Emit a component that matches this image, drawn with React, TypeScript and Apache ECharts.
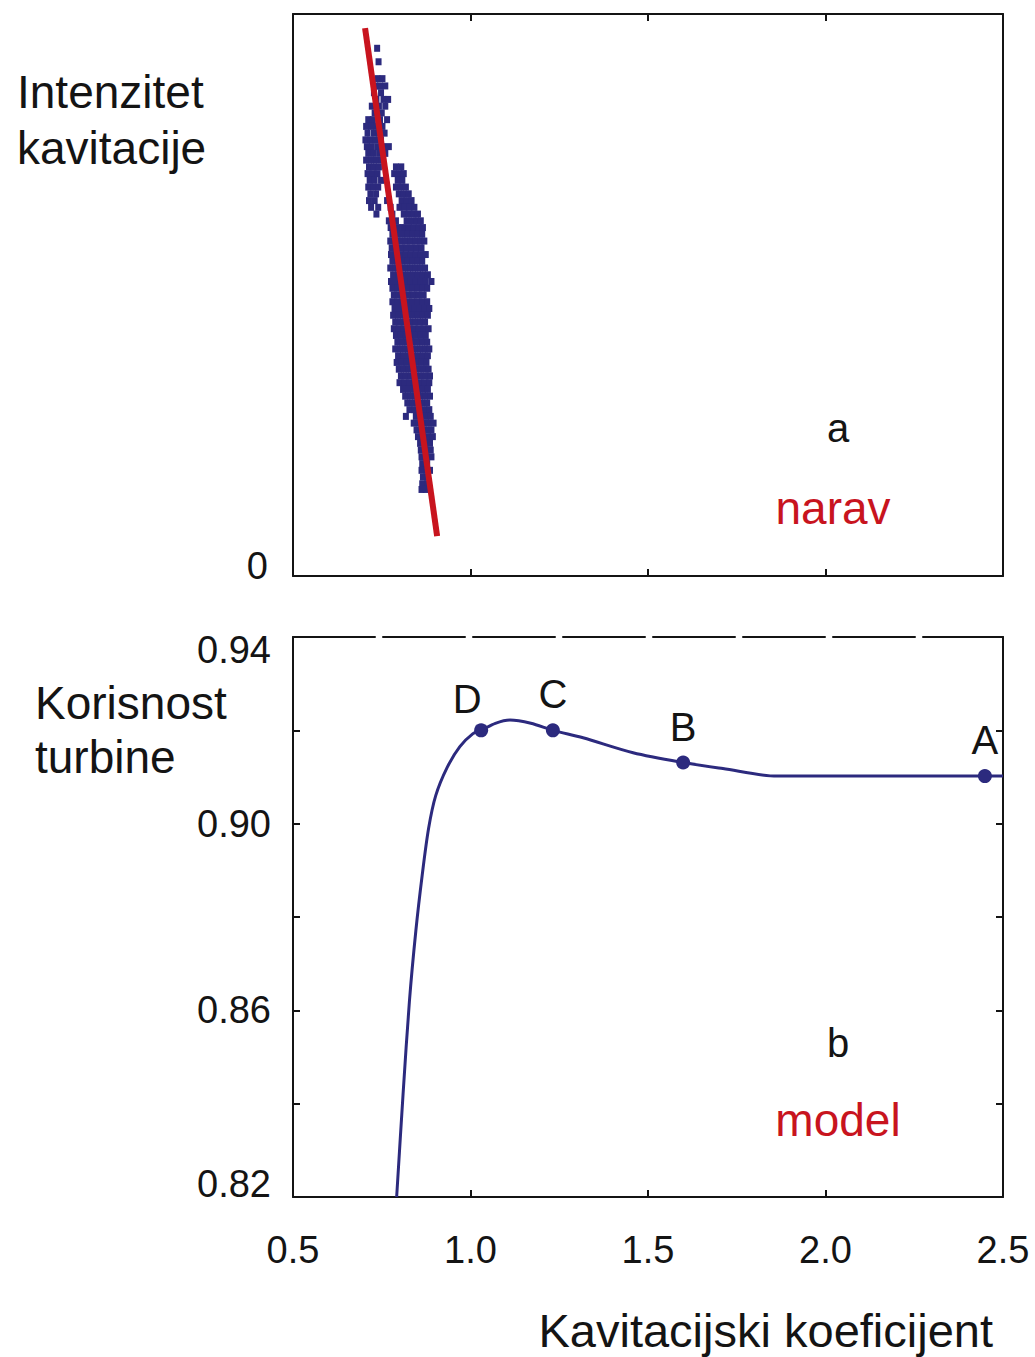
import React, { useEffect, useRef } from "react";
import * as echarts from "echarts";

// ---- Panel a: cavitation intensity cloud (rows: [intensity, x1, x2, ...]) ----
const cloudRows: number[][] = [
  [93.9, 0.737],
  [91.5, 0.741],
  [88.5, 0.738, 0.752],
  [87.2, 0.732, 0.745, 0.76],
  [86.0, 0.728, 0.748],
  [84.8, 0.735, 0.755, 0.768],
  [83.6, 0.722, 0.742, 0.76],
  [82.4, 0.73, 0.75],
  [81.2, 0.712, 0.725, 0.745, 0.765],
  [80.0, 0.706, 0.72, 0.735, 0.752],
  [78.8, 0.71, 0.728, 0.742, 0.758],
  [77.6, 0.704, 0.718, 0.732, 0.748],
  [76.4, 0.708, 0.722, 0.738, 0.754, 0.77],
  [75.2, 0.712, 0.728, 0.745, 0.76],
  [74.0, 0.706, 0.72, 0.734, 0.75],
  [72.8, 0.714, 0.728, 0.742, 0.79, 0.805],
  [71.6, 0.71, 0.724, 0.738, 0.785, 0.8, 0.812],
  [70.4, 0.716, 0.73, 0.748, 0.795, 0.808],
  [69.2, 0.712, 0.726, 0.74, 0.79, 0.804, 0.818],
  [68.0, 0.718, 0.734, 0.798, 0.812, 0.826],
  [66.8, 0.714, 0.73, 0.765, 0.806, 0.82, 0.834],
  [65.6, 0.72, 0.74, 0.775, 0.8, 0.814, 0.828, 0.842],
  [64.4, 0.735, 0.78, 0.812, 0.826, 0.84, 0.852],
  [63.2, 0.77, 0.79, 0.82, 0.834, 0.848, 0.86],
  [62.0, 0.775, 0.795, 0.81, 0.826, 0.84, 0.854, 0.866],
  [60.8, 0.78, 0.794, 0.808, 0.822, 0.836, 0.85, 0.864],
  [59.6, 0.774, 0.788, 0.802, 0.816, 0.83, 0.844, 0.858, 0.87],
  [58.4, 0.778, 0.792, 0.806, 0.82, 0.834, 0.848, 0.862],
  [57.2, 0.776, 0.79, 0.804, 0.818, 0.832, 0.846, 0.86, 0.874],
  [56.0, 0.78, 0.794, 0.808, 0.822, 0.836, 0.85, 0.864],
  [54.8, 0.774, 0.788, 0.802, 0.816, 0.83, 0.844, 0.858, 0.872],
  [53.6, 0.782, 0.796, 0.81, 0.824, 0.838, 0.852, 0.866, 0.88],
  [52.4, 0.776, 0.79, 0.804, 0.818, 0.832, 0.846, 0.86, 0.874, 0.89],
  [51.2, 0.78, 0.794, 0.808, 0.822, 0.836, 0.85, 0.864, 0.878],
  [50.0, 0.784, 0.798, 0.812, 0.826, 0.84, 0.854, 0.868],
  [48.8, 0.78, 0.794, 0.808, 0.822, 0.836, 0.85, 0.864, 0.878],
  [47.6, 0.786, 0.8, 0.814, 0.828, 0.842, 0.856, 0.87, 0.884],
  [46.4, 0.782, 0.796, 0.81, 0.824, 0.838, 0.852, 0.866, 0.88],
  [45.2, 0.788, 0.802, 0.816, 0.83, 0.844, 0.858, 0.872],
  [44.0, 0.784, 0.798, 0.812, 0.826, 0.84, 0.854, 0.868, 0.882],
  [42.8, 0.79, 0.804, 0.818, 0.832, 0.846, 0.86, 0.874],
  [41.6, 0.794, 0.808, 0.822, 0.836, 0.85, 0.864, 0.878],
  [40.4, 0.788, 0.802, 0.816, 0.83, 0.844, 0.858, 0.872, 0.884],
  [39.2, 0.796, 0.81, 0.824, 0.838, 0.852, 0.866, 0.88],
  [38.0, 0.792, 0.806, 0.82, 0.834, 0.848, 0.862, 0.876],
  [36.8, 0.798, 0.812, 0.826, 0.84, 0.854, 0.868, 0.882],
  [35.6, 0.804, 0.818, 0.832, 0.846, 0.86, 0.874, 0.886],
  [34.4, 0.8, 0.814, 0.828, 0.842, 0.856, 0.87, 0.884],
  [33.2, 0.81, 0.824, 0.838, 0.852, 0.866, 0.88],
  [32.0, 0.816, 0.83, 0.844, 0.858, 0.872, 0.886],
  [30.8, 0.822, 0.836, 0.85, 0.864, 0.878],
  [29.6, 0.828, 0.842, 0.856, 0.87, 0.884],
  [28.4, 0.818, 0.846, 0.86, 0.874, 0.888],
  [27.2, 0.84, 0.854, 0.868, 0.882, 0.896],
  [26.0, 0.848, 0.862, 0.876, 0.89],
  [24.8, 0.852, 0.866, 0.88, 0.894],
  [23.6, 0.858, 0.872, 0.886],
  [22.4, 0.86, 0.874, 0.888],
  [21.2, 0.862, 0.876, 0.89],
  [20.0, 0.864, 0.878],
  [18.8, 0.862, 0.876, 0.886],
  [17.6, 0.866, 0.88],
  [16.4, 0.864, 0.878],
  [15.4, 0.862, 0.874],
];

// fitted red line of panel a
const fitX = [0.703, 0.906];
const fitY = [97.5, 7.1];

// ---- Panel b: turbine efficiency curve ----
const curveX = [
  0.792, 0.81, 0.828, 0.846, 0.864, 0.882, 0.902, 0.934, 0.97, 1.007, 1.03,
  1.07, 1.111, 1.17, 1.232, 1.317, 1.458, 1.599, 1.711, 1.863, 2.449, 2.5,
];
const curveY = [
  0.82, 0.842, 0.862, 0.877, 0.889, 0.899, 0.906, 0.912, 0.9165, 0.9193, 0.92,
  0.9215, 0.9222, 0.9215, 0.92, 0.9184, 0.9152, 0.9131, 0.9118, 0.9102,
  0.9102, 0.9102,
];
const pointNames = ["D", "C", "B", "A"];
const pointX = [1.03, 1.232, 1.599, 2.449];
const pointY = [0.92, 0.92, 0.9131, 0.9102];

const xTicks = [0.5, 1.0, 1.5, 2.0, 2.5];

const FONT = '"Liberation Sans", Arial, sans-serif';
const INK = "#141414";
const NAVY = "#2c2a7e";
const RED = "#c8141e";

export default function App() {
  const ref = useRef<HTMLDivElement>(null);
  useEffect(() => {
    document.body.style.margin = "0";
    const chart = echarts.init(ref.current!, undefined, { renderer: "svg" });
    const cloud = cloudRows.flatMap((r) => r.slice(1).map((x) => [x, r[0]]));
    const axisLine = { show: true, onZero: false, lineStyle: { color: INK, width: 2 } };
    const tickIn = (show: boolean) => ({
      show,
      inside: true,
      length: 7,
      lineStyle: { color: INK, width: 2 },
    });
    const xBase = {
      type: "value",
      min: xTicks[0],
      max: xTicks[xTicks.length - 1],
      interval: 0.5,
      splitLine: { show: false },
    };
    const option: any = {
      animation: false,
      backgroundColor: "#ffffff",
      grid: [
        { left: 293, top: 14, width: 710, height: 562 },
        { left: 293, top: 637, width: 710, height: 560 },
      ],
      xAxis: [
        { ...xBase, gridIndex: 0, position: "bottom", axisLine, axisTick: tickIn(true), axisLabel: { show: false } },
        { ...xBase, gridIndex: 0, position: "top", axisLine, axisTick: tickIn(true), axisLabel: { show: false } },
        {
          ...xBase,
          gridIndex: 1,
          position: "bottom",
          axisLine,
          axisTick: tickIn(true),
          axisLabel: {
            show: true,
            color: INK,
            fontFamily: FONT,
            fontSize: 38,
            margin: 34,
            formatter: (v: number) => v.toFixed(1),
          },
        },
        {
          ...xBase,
          gridIndex: 1,
          position: "top",
          axisLine: { show: true, onZero: false, lineStyle: { color: INK, width: 2, type: [82, 8] } },
          axisTick: { show: false },
          axisLabel: { show: false },
        },
      ],
      yAxis: [
        {
          type: "value",
          gridIndex: 0,
          position: "left",
          min: 0,
          max: 100,
          interval: 100,
          axisLine,
          axisTick: { show: false },
          splitLine: { show: false },
          axisLabel: {
            show: true,
            color: INK,
            fontFamily: FONT,
            fontSize: 38,
            lineHeight: 20,
            margin: 25,
            verticalAlignMinLabel: "bottom",
            formatter: (v: number) => (v === 0 ? "0" : ""),
          },
        },
        {
          type: "value",
          gridIndex: 0,
          position: "right",
          min: 0,
          max: 100,
          interval: 100,
          axisLine,
          axisTick: { show: false },
          splitLine: { show: false },
          axisLabel: { show: false },
        },
        {
          type: "value",
          gridIndex: 1,
          position: "left",
          min: 0.82,
          max: 0.94,
          interval: 0.02,
          axisLine,
          axisTick: tickIn(true),
          splitLine: { show: false },
          axisLabel: {
            show: true,
            color: INK,
            fontFamily: FONT,
            fontSize: 38,
            lineHeight: 26,
            margin: 22,
            verticalAlignMinLabel: "bottom",
            verticalAlignMaxLabel: "top",
            formatter: (v: number, i: number) => (i % 2 === 0 ? v.toFixed(2) : ""),
          },
        },
        {
          type: "value",
          gridIndex: 1,
          position: "right",
          min: 0.82,
          max: 0.94,
          interval: 0.02,
          axisLine,
          axisTick: tickIn(true),
          splitLine: { show: false },
          axisLabel: { show: false },
        },
      ],
      series: [
        {
          type: "scatter",
          xAxisIndex: 0,
          yAxisIndex: 0,
          data: cloud,
          symbol: "rect",
          symbolSize: [6, 7],
          itemStyle: { color: NAVY, opacity: 1 },
          silent: true,
          z: 2,
        },
        {
          type: "line",
          xAxisIndex: 0,
          yAxisIndex: 0,
          data: fitX.map((x, i) => [x, fitY[i]]),
          showSymbol: false,
          lineStyle: { color: RED, width: 6 },
          z: 3,
        },
        {
          type: "line",
          xAxisIndex: 2,
          yAxisIndex: 2,
          data: curveX.map((x, i) => [x, curveY[i]]),
          showSymbol: false,
          smooth: 0.3,
          lineStyle: { color: NAVY, width: 3 },
          z: 3,
        },
        {
          type: "scatter",
          xAxisIndex: 2,
          yAxisIndex: 2,
          data: pointX.map((x, i) => ({
            value: [x, pointY[i]],
            label: i === 0 ? { offset: [-14, 5] } : undefined,
          })),
          symbol: "circle",
          symbolSize: 14,
          itemStyle: { color: NAVY, opacity: 1 },
          label: {
            show: true,
            position: "top",
            distance: 9,
            color: INK,
            fontFamily: FONT,
            fontSize: 40,
            formatter: (p: any) => pointNames[p.dataIndex],
          },
          z: 4,
        },
      ],
      graphic: [
        {
          type: "text",
          left: 17,
          top: 64,
          style: { text: "Intenzitet\nkavitacije", fill: INK, fontFamily: FONT, fontSize: 46, lineHeight: 56 },
        },
        {
          type: "text",
          left: 35,
          top: 676,
          style: { text: "Korisnost\nturbine", fill: INK, fontFamily: FONT, fontSize: 46, lineHeight: 54 },
        },
        {
          type: "text",
          x: 838,
          y: 428,
          style: { text: "a", fill: INK, fontFamily: FONT, fontSize: 40, align: "center", verticalAlign: "middle" },
        },
        {
          type: "text",
          x: 833,
          y: 508,
          style: { text: "narav", fill: RED, fontFamily: FONT, fontSize: 46, align: "center", verticalAlign: "middle" },
        },
        {
          type: "text",
          x: 838,
          y: 1043,
          style: { text: "b", fill: INK, fontFamily: FONT, fontSize: 40, align: "center", verticalAlign: "middle" },
        },
        {
          type: "text",
          x: 838,
          y: 1120,
          style: { text: "model", fill: RED, fontFamily: FONT, fontSize: 46, align: "center", verticalAlign: "middle" },
        },
        {
          type: "text",
          x: 993,
          y: 1330,
          style: {
            text: "Kavitacijski koeficijent",
            fill: INK,
            fontFamily: FONT,
            fontSize: 47,
            align: "right",
            verticalAlign: "middle",
          },
        },
      ],
    };
    chart.setOption(option);
    return () => chart.dispose();
  }, []);
  return (
    <div
      ref={ref}
      style={{ position: "absolute", left: 0, top: 0, width: 1035, height: 1357 }}
    />
  );
}
